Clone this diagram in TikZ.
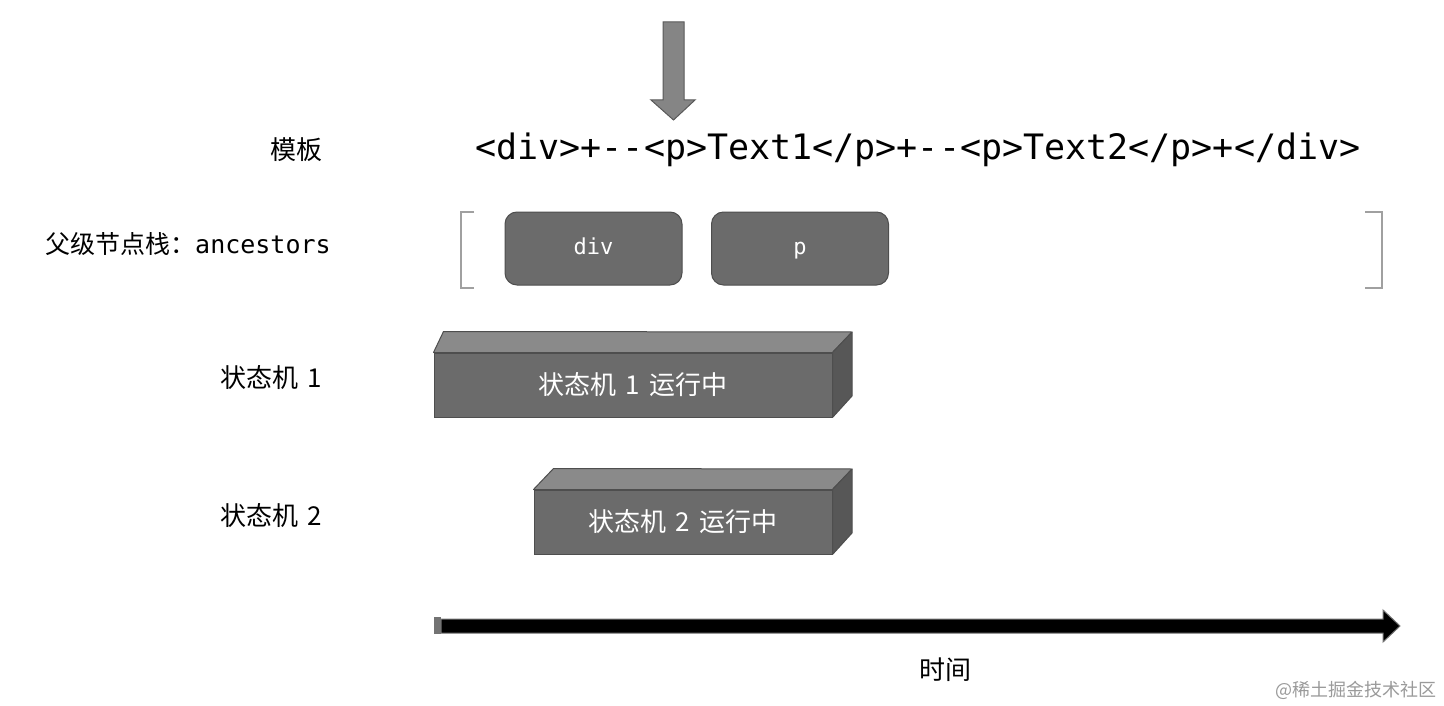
\documentclass[tikz,border=0pt]{standalone}
\usepackage{fontspec}
\setmainfont{Noto Sans CJK SC}
\setmonofont{DejaVu Sans Mono}
\definecolor{boxfill}{HTML}{6B6B6B}
\definecolor{boxedge}{HTML}{4E4E4E}
\definecolor{topface}{HTML}{8A8A8A}
\definecolor{sideface}{HTML}{575757}
\definecolor{arrowgray}{HTML}{858585}
\definecolor{bracketgray}{HTML}{A0A0A0}
\definecolor{wm}{HTML}{9A9A9A}
\tikzset{
  lbl/.style={font=\fontsize{26}{26}\selectfont, inner sep=0pt},
  stackbox/.style={draw=boxedge, line width=1pt, fill=boxfill, rounded corners=12pt,
    minimum width=177pt, minimum height=73pt, text=white, inner sep=0pt,
    text height=16pt, text depth=4pt,
    font=\ttfamily\fontsize{22}{22}\selectfont},
  frontface/.style={draw=boxedge, line width=1pt, fill=boxfill, text=white, inner sep=0pt,
    minimum height=64pt, font=\fontsize{26}{26}\selectfont},
  face/.style={draw=boxedge, line width=1pt, line join=round},
  bracket/.style={draw=bracketgray, line width=1.5pt}
}
\begin{document}
\begin{tikzpicture}[x=1pt,y=-1pt]
\useasboundingbox[fill=white] (0,0) rectangle (1444,706);

% down arrow
\coordinate (da) at (673.5,22);
\draw[fill=arrowgray, draw=black!65, line width=1pt, line join=miter]
  (663,22) -- (684,22) -- (684,100) -- (695,100) -- (673.5,120) -- (651,100) -- (663,100) -- cycle;

% template
\node[font=\ttfamily\fontsize{35}{35}\selectfont, inner sep=0pt] (tpl) at (918,150)
  {<div>+-{}-<p>Text1</p>+-{}-<p>Text2</p>+</div>};
\node[lbl] (l1) at (296,150) {模板};

% ancestors
\node[inner sep=0pt, anchor=west, font=\fontsize{25}{25}\selectfont] (l2) at (45,244)
  {父级节点栈：\ttfamily ancestors};
\draw[bracket] (474,212) -- (461,212) -- (461,288) -- (474,288);
\draw[bracket] (1365,212) -- (1382,212) -- (1382,288) -- (1365,288);
\node[stackbox] (sdiv) at (593.5,248.5) {div};
\node[stackbox] (sp) at (800,248.5) {p};

% state machine 1
\node[lbl] (l3) at (271,378) {状态机\hspace{0.35em}1};
\node[frontface, minimum width=398pt] (sm1) at (633,385) {状态机\hspace{0.35em}1\hspace{0.35em}运行中};
\draw[face, fill=topface] (sm1.north west) -- ++(10,-21) -- (852,332) -- (sm1.north east) -- cycle;
\draw[face, fill=sideface] (sm1.north east) -- (852,332) -- (852,396) -- (sm1.south east) -- cycle;

% state machine 2
\node[lbl] (l4) at (271,516) {状态机\hspace{0.35em}2};
\node[frontface, minimum width=298pt] (sm2) at (683,522) {状态机\hspace{0.35em}2\hspace{0.35em}运行中};
\draw[face, fill=topface] (sm2.north west) -- ++(20,-21) -- (852,469) -- (sm2.north east) -- cycle;
\draw[face, fill=sideface] (sm2.north east) -- (852,469) -- (852,533) -- (sm2.south east) -- cycle;

% time arrow
\coordinate (ts) at (434,626);
\coordinate (te) at (1400,626);
\fill[black!55] (434,617) rectangle (441,634);
\draw[fill=black, draw=black!55, line width=1pt, line join=miter]
  (441,619) -- (1383,619) -- (1383,610) -- (te) -- (1383,642) -- (1383,633) -- (441,633) -- cycle;
\node[lbl] (l5) at (945,670) {时间};

% watermark
\node[inner sep=0pt, anchor=east, text=wm, font=\fontsize{18}{18}\selectfont] (wmk) at (1437,690) {@稀土掘金技术社区};
\end{tikzpicture}
\end{document}
